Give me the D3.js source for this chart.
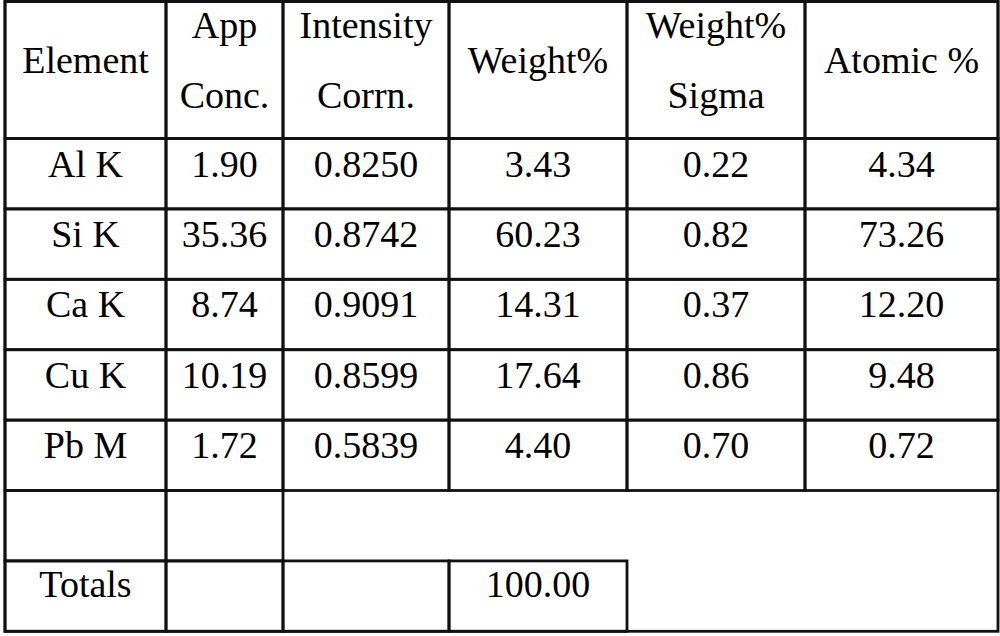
<!DOCTYPE html>
<html>
<head>
<meta charset="utf-8">
<script src="https://cdn.jsdelivr.net/npm/d3@7"></script>
<style>
  html, body { margin: 0; padding: 0; background: #fff; }
</style>
</head>
<body>
<svg width="1000" height="636"></svg>
<script>
// table contents
let headers = [["Element"], ["App", "Conc."], ["Intensity", "Corrn."], ["Weight%"], ["Weight%", "Sigma"], ["Atomic %"]];
let elements = ["Al K", "Si K", "Ca K", "Cu K", "Pb M"];
let appConc = ["1.90", "35.36", "8.74", "10.19", "1.72"];
let intensityCorrn = ["0.8250", "0.8742", "0.9091", "0.8599", "0.5839"];
let weightPct = ["3.43", "60.23", "14.31", "17.64", "4.40"];
let weightSigma = ["0.22", "0.82", "0.37", "0.86", "0.70"];
let atomicPct = ["4.34", "73.26", "12.20", "9.48", "0.72"];
let totalsLabel = "Totals";
let totalWeight = "100.00";

// layout
let colWidths = [161, 117, 166, 178, 178, 193];
let tableLeft = 5, tableTop = 1.5, headerH = 137, rowH = 70.4;
let fontSize = 38;

let svg = d3.select("svg");
let g = svg.append("g")
    .attr("font-family", "'Liberation Serif', 'Times New Roman', Times, serif");

let edges = [tableLeft];
colWidths.forEach(function(w) { edges.push(edges[edges.length - 1] + w); });
let x = function(i) { return edges[i]; };
let y = d3.scaleLinear().domain([0, 1]).range([tableTop + headerH, tableTop + headerH + rowH]);

let columns = [elements, appConc, intensityCorrn, weightPct, weightSigma, atomicPct];
let nRows = elements.length;

let cells = [];
// header cells
headers.forEach(function(h, c) {
  cells.push({c: c, span: 1, y0: tableTop, y1: tableTop + headerH, lines: h, header: true});
});
// data rows
for (let r = 0; r < nRows; r++) {
  columns.forEach(function(col, c) {
    cells.push({c: c, span: 1, y0: y(r), y1: y(r + 1), lines: [col[r]]});
  });
}
// blank row: first two cells bordered, rest merged
cells.push({c: 0, span: 1, y0: y(nRows), y1: y(nRows + 1), lines: []});
cells.push({c: 1, span: 1, y0: y(nRows), y1: y(nRows + 1), lines: []});
// totals row
let totalsRow = [totalsLabel, "", "", totalWeight];
totalsRow.forEach(function(t, c) {
  cells.push({c: c, span: 1, y0: y(nRows + 1), y1: y(nRows + 2), lines: t ? [t] : [], totals: true});
});

let cell = g.selectAll("g.cell")
  .data(cells)
  .enter().append("g")
    .attr("class", "cell");

cell.append("rect")
    .attr("x", function(d) { return x(d.c); })
    .attr("y", function(d) { return d.y0; })
    .attr("width", function(d) { return x(d.c + d.span) - x(d.c); })
    .attr("height", function(d) { return d.y1 - d.y0; })
    .attr("fill", "none")
    .attr("stroke", "#111")
    .attr("stroke-width", 2.8);

cell.each(function(d) {
  let cx = (x(d.c) + x(d.c + d.span)) / 2;
  let sel = d3.select(this);
  d.lines.forEach(function(t, i) {
    let base;
    if (d.header) {
      base = d.lines.length === 1 ? d.y0 + 71 : d.y0 + 36 + i * 70;
    } else if (d.totals) {
      base = d.y0 + 36;
    } else {
      base = d.y0 + 38;
    }
    sel.append("text")
      .attr("x", cx)
      .attr("y", base)
      .attr("text-anchor", "middle")
      .attr("font-size", fontSize)
      .attr("fill", "#000")
      .text(t);
  });
});

// outer border
g.append("rect")
  .attr("x", x(0))
  .attr("y", tableTop)
  .attr("width", x(colWidths.length) - x(0))
  .attr("height", y(nRows + 2) - tableTop)
  .attr("fill", "none")
  .attr("stroke", "#111")
  .attr("stroke-width", 2.8);
</script>
</body>
</html>
